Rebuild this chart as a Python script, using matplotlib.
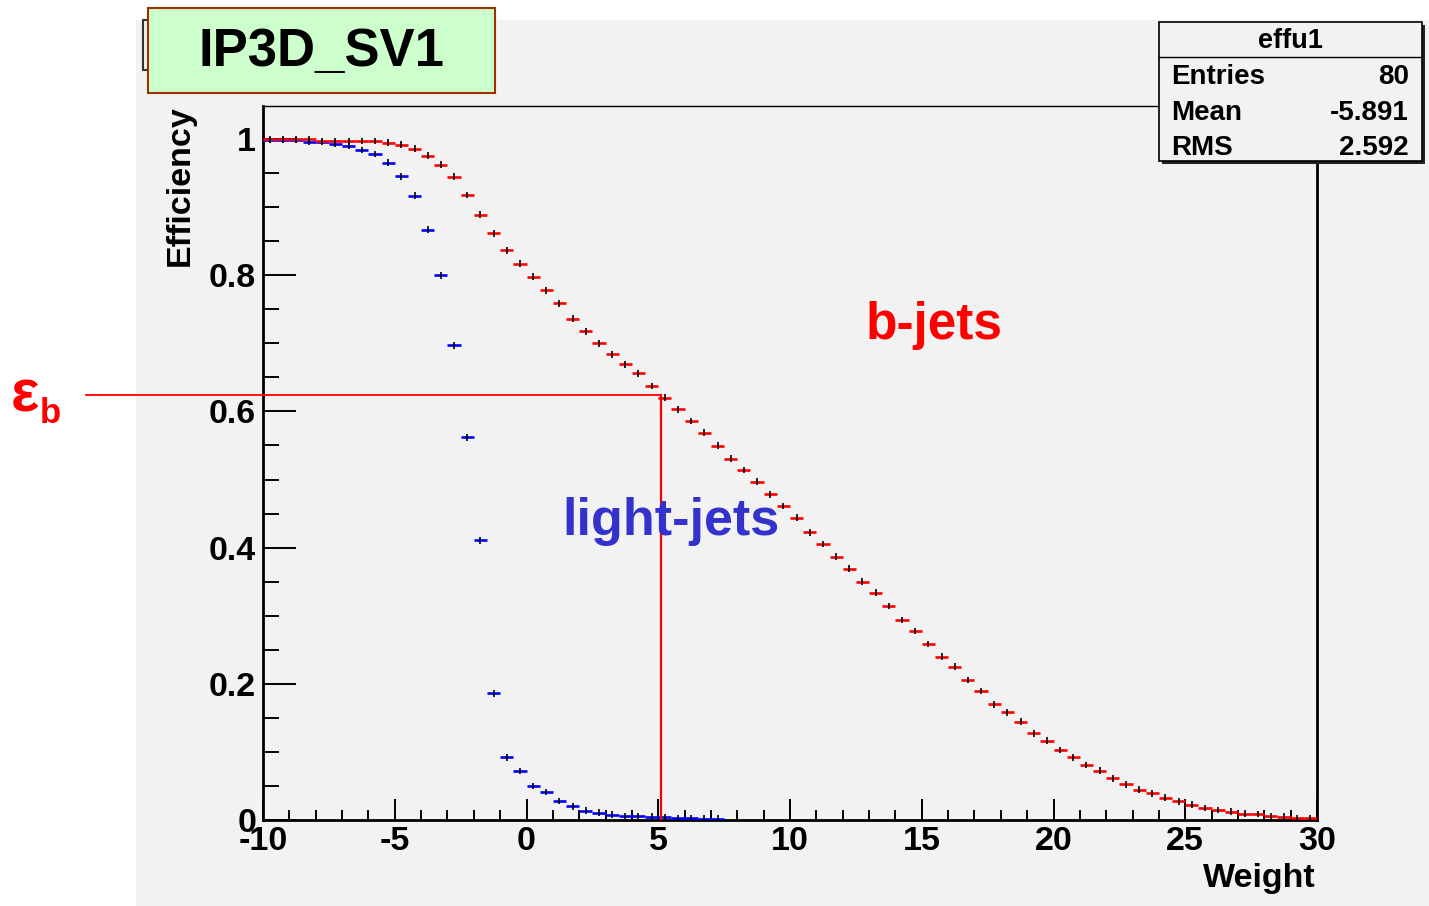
import matplotlib
matplotlib.use("Agg")
import matplotlib.pyplot as plt
import numpy as np
from matplotlib.patches import Rectangle

# ---------------- data ----------------
bin_edges_lo = -10.0
bin_width = 0.5
n_bins = 80

b_jets_eff = [0.9995, 0.9995, 0.9995, 0.9995,
              0.997, 0.997, 0.997, 0.997, 0.997,
              0.9945, 0.9916, 0.986, 0.9756, 0.962, 0.9447, 0.9178, 0.8889, 0.8615, 0.8365,
              0.8169, 0.7978, 0.778, 0.7587, 0.7361, 0.7176, 0.6999, 0.6838, 0.6691, 0.6559,
              0.6373, 0.620, 0.603, 0.5859, 0.569, 0.5494, 0.5308, 0.514, 0.4965, 0.478,
              0.461, 0.4437, 0.4224, 0.4053, 0.3867, 0.3693, 0.3497, 0.3337, 0.3142, 0.2938,
              0.2775, 0.2584, 0.240, 0.2251, 0.2056, 0.1894, 0.1698, 0.158, 0.1441, 0.1276,
              0.1165, 0.1028, 0.092, 0.0808, 0.0724, 0.0612, 0.0523, 0.0445, 0.0392, 0.0328,
              0.0274, 0.0225, 0.0176, 0.0147, 0.0122, 0.0093, 0.0088, 0.0059, 0.005, 0.0024,
              0.0024]

light_jets_eff = [0.9985, 0.9985, 0.9985, 0.9956, 0.9956,
                  0.9927, 0.990, 0.984, 0.978, 0.9655, 0.945, 0.917, 0.867, 0.800, 0.697,
                  0.562, 0.411, 0.186, 0.092, 0.072, 0.050, 0.041, 0.028, 0.020, 0.0137,
                  0.0108, 0.008, 0.006, 0.0055, 0.005, 0.004, 0.003, 0.003, 0.002, 0.002]

cut_weight = 5.1
eps_b = 0.624

stats_name = "effu1"
stats_rows = [("Entries", "80"), ("Mean", "-5.891"), ("RMS", "2.592")]

x_ticks = [-10, -5, 0, 5, 10, 15, 20, 25, 30]
y_ticks = [0, 0.2, 0.4, 0.6, 0.8, 1]
y_tick_labels = ["0", "0.2", "0.4", "0.6", "0.8", "1"]

# ---------------- figure ----------------
W, H = 1429, 906
plt.rcParams['font.family'] = ['Liberation Sans', 'DejaVu Sans']
fig = plt.figure(figsize=(W / 100, H / 100), dpi=100)
fig.patch.set_facecolor('white')

def fx(px):
    return px / W

def fy(py):
    return 1 - py / H

GREY = '#f2f2f2'
# grey pad
fig.patches.append(Rectangle((fx(136), 0), 1 - fx(136), fy(20), transform=fig.transFigure,
                             facecolor=GREY, edgecolor='none', zorder=-10))

ax = fig.add_axes([fx(263), fy(820), fx(1317) - fx(263), fy(106) - fy(820)])
ax.set_zorder(1)
ax.set_facecolor(GREY)
ax.set_xlim(-10, 30)
ax.set_ylim(0, 1.0485)

edges = bin_edges_lo + bin_width * np.arange(n_bins + 1)
centers = edges[:-1] + bin_width / 2

def draw_hist(vals, color):
    n = len(vals)
    c = centers[:n]
    ax.hlines(vals, edges[:n], edges[1:n + 1], colors=color, lw=1.9, zorder=3)
    ax.errorbar(c, vals, yerr=0.005, fmt='none', ecolor='black', elinewidth=1.2, zorder=4)

draw_hist(light_jets_eff, '#0000ff')
draw_hist(b_jets_eff, '#ff0000')

# ticks
ax.set_xticks(x_ticks)
ax.set_xticklabels([str(t) for t in x_ticks])
ax.set_xticks(np.arange(-10, 31, 1), minor=True)
ax.set_yticks(y_ticks)
ax.set_yticklabels(y_tick_labels)
ax.set_yticks(np.arange(0, 1.05, 0.05), minor=True)
ax.tick_params(axis='x', which='major', direction='in', length=15, width=1.4, pad=4,
               labelsize=24.5, top=False)
ax.tick_params(axis='x', which='minor', direction='in', length=7.5, width=1.4, top=False)
ax.tick_params(axis='y', which='major', direction='in', length=24, width=1.4, pad=5,
               labelsize=24.5, right=False)
ax.tick_params(axis='y', which='minor', direction='in', length=11.5, width=1.4, right=False)
for lab in ax.get_xticklabels() + ax.get_yticklabels():
    lab.set_fontweight('bold')

ax.spines['left'].set_linewidth(2.0)
ax.spines['bottom'].set_linewidth(2.0)
ax.spines['top'].set_linewidth(1.0)
ax.spines['right'].set_linewidth(2.0)
for s in ax.spines.values():
    s.set_color('black')

# axis titles
fig.text(fx(180), fy(105), "Efficiency", rotation=90, ha='center', va='top',
         fontsize=24.5, fontweight='bold')
fig.text(fx(1316), fy(878), "Weight", ha='right', va='center', fontsize=24.5, fontweight='bold')

# curve labels
fig.text(fx(934), fy(326), "b-jets", ha='center', va='center', fontsize=37,
         fontweight='bold', color='#ff0000', zorder=10)
fig.text(fx(671), fy(522), "light-jets", ha='center', va='center', fontsize=37.5,
         fontweight='bold', color='#3333cc', zorder=10)

# working point lines
x_left_data = (86 - 263) / ((1317 - 263) / 40.0) - 10
ax.plot([x_left_data, cut_weight], [eps_b, eps_b], color='#ff0000', lw=1.3,
        clip_on=False, zorder=5)
ax.plot([cut_weight, cut_weight], [0, eps_b], color='#ff0000', lw=1.6, zorder=5)

fig.text(fx(11), fy(412), "ε", ha='left', va='baseline', fontsize=43, fontweight='bold',
         color='#ff0000')
fig.text(fx(40), fy(423), "b", ha='left', va='baseline', fontsize=25, fontweight='bold',
         color='#ff0000')

# title box
fig.patches.append(Rectangle((fx(143), fy(70)), fx(200) - fx(143), fy(20) - fy(70),
                             transform=fig.transFigure, facecolor=GREY, edgecolor='#333333',
                             lw=1.5, zorder=2))
fig.patches.append(Rectangle((fx(148), fy(93)), fx(495) - fx(148), fy(8) - fy(93),
                             transform=fig.transFigure, facecolor='#ccffcc', edgecolor='#993300',
                             lw=1.5, zorder=3))
fig.text(fx(321), fy(52), "IP3D_SV1", ha='center', va='center', fontsize=38,
         fontweight='bold', color='black', zorder=4)

# stats box
bx0, bx1, by0, by1 = 1159, 1422, 22, 161
fig.patches.append(Rectangle((fx(bx0 + 3), fy(by1 + 3)), fx(bx1) - fx(bx0), fy(by0) - fy(by1),
                             transform=fig.transFigure, facecolor='#222222', edgecolor='none',
                             zorder=6))
fig.patches.append(Rectangle((fx(bx0), fy(by1)), fx(bx1) - fx(bx0), fy(by0) - fy(by1),
                             transform=fig.transFigure, facecolor=GREY, edgecolor='black',
                             lw=1.2, zorder=7))
fig.lines.append(plt.Line2D([fx(bx0), fx(bx1)], [fy(57), fy(57)], transform=fig.transFigure,
                            color='black', lw=1.0, zorder=8))
fig.text(fx(1290), fy(41), stats_name, ha='center', va='center', fontsize=19.5,
         fontweight='bold', zorder=9)
row_y = [77, 113, 148]
for (k, v), yy in zip(stats_rows, row_y):
    fig.text(fx(1171), fy(yy), k, ha='left', va='center', fontsize=20, fontweight='bold', zorder=9)
    fig.text(fx(1409), fy(yy), v, ha='right', va='center', fontsize=20, fontweight='bold', zorder=9)

fig.savefig("out.png", dpi=100)
